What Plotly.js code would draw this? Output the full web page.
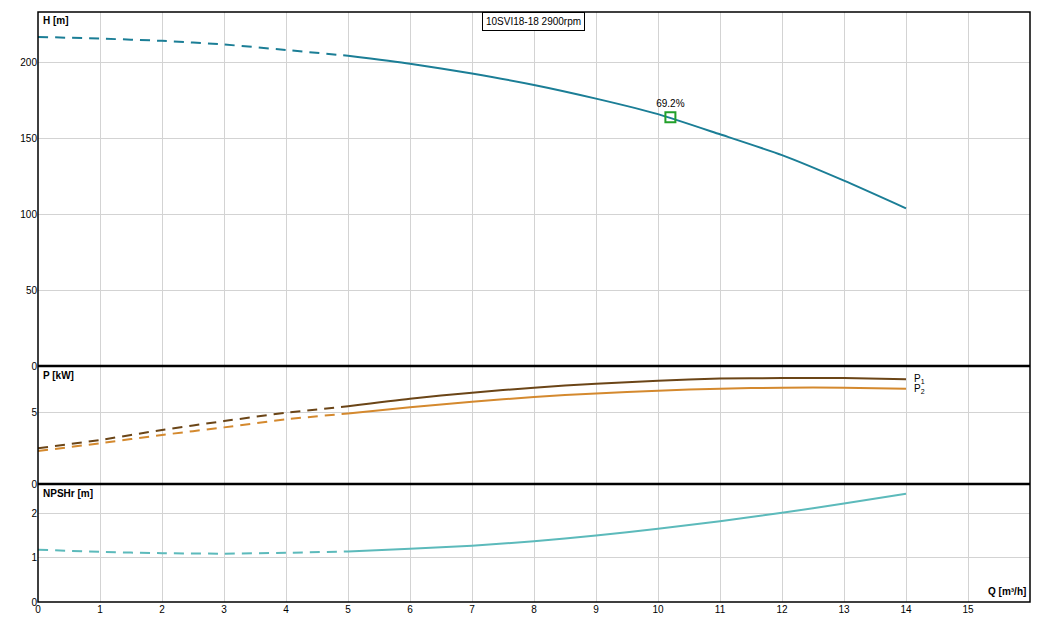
<!DOCTYPE html>
<html>
<head>
<meta charset="utf-8">
<script src="https://cdn.plot.ly/plotly-3.0.1.min.js"></script>
<style>
  html, body { margin: 0; padding: 0; background: #fff; }
  #chart { width: 1046px; height: 626px; }
</style>
</head>
<body>
<div id="chart"></div>
<script>
// flow points, dashed part (outside the allowed range) and solid part
let Q_DASH = [0, 1, 2, 3, 4, 5];
let Q_SOLID = [5, 6, 7, 8, 9, 10, 11, 12, 13, 14];

// head H [m]
let H_DASH = [216.6, 215.5, 214, 211.6, 208, 204.2];
let H_SOLID = [204.2, 199, 192.5, 185, 176, 165.8, 152.5, 138.8, 122, 103.8];

// power P1 / P2 [kW]
let P1_DASH = [2.49, 3.07, 3.77, 4.39, 4.97, 5.42];
let P1_SOLID = [5.42, 5.95, 6.37, 6.72, 7.0, 7.2, 7.35, 7.39, 7.39, 7.3];
let P2_DASH = [2.30, 2.84, 3.42, 3.95, 4.51, 4.92];
let P2_SOLID = [4.92, 5.35, 5.74, 6.07, 6.32, 6.51, 6.65, 6.72, 6.72, 6.65];

// NPSHr [m]
let N_DASH = [1.18, 1.13, 1.10, 1.09, 1.11, 1.14];
let N_SOLID = [1.14, 1.20, 1.27, 1.37, 1.50, 1.65, 1.82, 2.01, 2.22, 2.44];

// duty point
let DUTY_Q = [10.2];
let DUTY_H = [163.8];
let DUTY_LABEL = ['69.2%'];

let X_TICKS = [0, 1, 2, 3, 4, 5, 6, 7, 8, 9, 10, 11, 12, 13, 14, 15];

let COL_H = '#1b7e96';
let COL_P1 = '#6b4517';
let COL_P2 = '#d4892e';
let COL_N = '#5cbabb';
let DASH = '10px,7px';

function line(x, y, color, dashed, xa, ya) {
    return {
        x: x, y: y, xaxis: xa, yaxis: ya,
        mode: 'lines', type: 'scatter',
        line: { color: color, width: 2, dash: dashed ? DASH : 'solid', shape: 'spline', smoothing: 0.6 },
        hoverinfo: 'skip', showlegend: false
    };
}

let traces = [
    line(Q_DASH, H_DASH, COL_H, true, 'x3', 'y'),
    line(Q_SOLID, H_SOLID, COL_H, false, 'x3', 'y'),
    line(Q_DASH, P1_DASH, COL_P1, true, 'x2', 'y2'),
    line(Q_SOLID, P1_SOLID, COL_P1, false, 'x2', 'y2'),
    line(Q_DASH, P2_DASH, COL_P2, true, 'x2', 'y2'),
    line(Q_SOLID, P2_SOLID, COL_P2, false, 'x2', 'y2'),
    line(Q_DASH, N_DASH, COL_N, true, 'x', 'y3'),
    line(Q_SOLID, N_SOLID, COL_N, false, 'x', 'y3'),
    {
        x: DUTY_Q, y: DUTY_H, xaxis: 'x3', yaxis: 'y',
        mode: 'markers+text', type: 'scatter',
        text: DUTY_LABEL, textposition: 'top center',
        textfont: { family: 'Liberation Sans, Arial', size: 10, color: '#000' },
        marker: { symbol: 'square-open', size: 10, color: '#22a02a', line: { width: 2, color: '#22a02a' } },
        hoverinfo: 'skip', showlegend: false
    }
];

let font = { family: 'Liberation Sans, Arial, sans-serif', size: 10, color: '#000' };
let grid = '#d3d3d3';

let xBase = {
    range: [0, 16], tickvals: X_TICKS, showgrid: true, gridcolor: grid, gridwidth: 1,
    zeroline: false, showline: false, ticks: '', tickfont: font
};

let layout = {
    width: 1046, height: 626,
    margin: { l: 38, r: 16, t: 12, b: 24 },
    paper_bgcolor: '#fff', plot_bgcolor: '#fff',
    font: font,
    showlegend: false,
    xaxis: Object.assign({}, xBase, { anchor: 'y3' }),
    xaxis2: Object.assign({}, xBase, { anchor: 'y2', matches: 'x', showticklabels: false }),
    xaxis3: Object.assign({}, xBase, { anchor: 'y', matches: 'x', showticklabels: false }),
    yaxis: {
        domain: [0.4, 1], range: [0, 233], tickvals: [0, 50, 100, 150, 200],
        showgrid: true, gridcolor: grid, zeroline: false, ticks: '', tickfont: font, anchor: 'x3'
    },
    yaxis2: {
        domain: [0.2, 0.4], range: [0, 8.23], tickvals: [0, 5],
        showgrid: true, gridcolor: grid, zeroline: false, ticks: '', tickfont: font, anchor: 'x2'
    },
    yaxis3: {
        domain: [0, 0.2], range: [0, 2.66], tickvals: [0, 1, 2],
        showgrid: true, gridcolor: grid, zeroline: false, ticks: '', tickfont: font, anchor: 'x'
    },
    shapes: [
        { type: 'rect', xref: 'paper', yref: 'paper', x0: 0, x1: 1, y0: 0, y1: 1,
          line: { color: '#000', width: 1.5 }, layer: 'above' },
        { type: 'line', xref: 'paper', yref: 'paper', x0: 0, x1: 1, y0: 0.4, y1: 0.4,
          line: { color: '#000', width: 2.5 }, layer: 'above' },
        { type: 'line', xref: 'paper', yref: 'paper', x0: 0, x1: 1, y0: 0.2, y1: 0.2,
          line: { color: '#000', width: 2.5 }, layer: 'above' }
    ],
    annotations: [
        { text: '<b>H [m]</b>', xref: 'paper', yref: 'paper', x: 0.003, y: 0.998,
          xanchor: 'left', yanchor: 'top', showarrow: false, font: font },
        { text: '<b>P [kW]</b>', xref: 'paper', yref: 'paper', x: 0.003, y: 0.396,
          xanchor: 'left', yanchor: 'top', showarrow: false, font: font },
        { text: '<b>NPSHr [m]</b>', xref: 'paper', yref: 'paper', x: 0.003, y: 0.196,
          xanchor: 'left', yanchor: 'top', showarrow: false, font: font },
        { text: '<b>Q [m³/h]</b>', xref: 'paper', yref: 'paper', x: 0.998, y: 0.005,
          xanchor: 'right', yanchor: 'bottom', showarrow: false, font: font },
        { text: '10SVI18-18 2900rpm', xref: 'paper', yref: 'paper', x: 0.499, y: 1,
          xanchor: 'center', yanchor: 'top', showarrow: false, font: font,
          bordercolor: '#000', borderwidth: 1, borderpad: 3, bgcolor: '#fff' },
        { text: 'P<sub>1</sub>', xref: 'x2', yref: 'y2', x: 14.1, y: P1_SOLID[P1_SOLID.length - 1],
          xanchor: 'left', yanchor: 'middle', showarrow: false, font: font },
        { text: 'P<sub>2</sub>', xref: 'x2', yref: 'y2', x: 14.1, y: P2_SOLID[P2_SOLID.length - 1],
          xanchor: 'left', yanchor: 'middle', showarrow: false, font: font }
    ]
};

Plotly.newPlot('chart', traces, layout, { staticPlot: true, displayModeBar: false });
</script>
</body>
</html>
